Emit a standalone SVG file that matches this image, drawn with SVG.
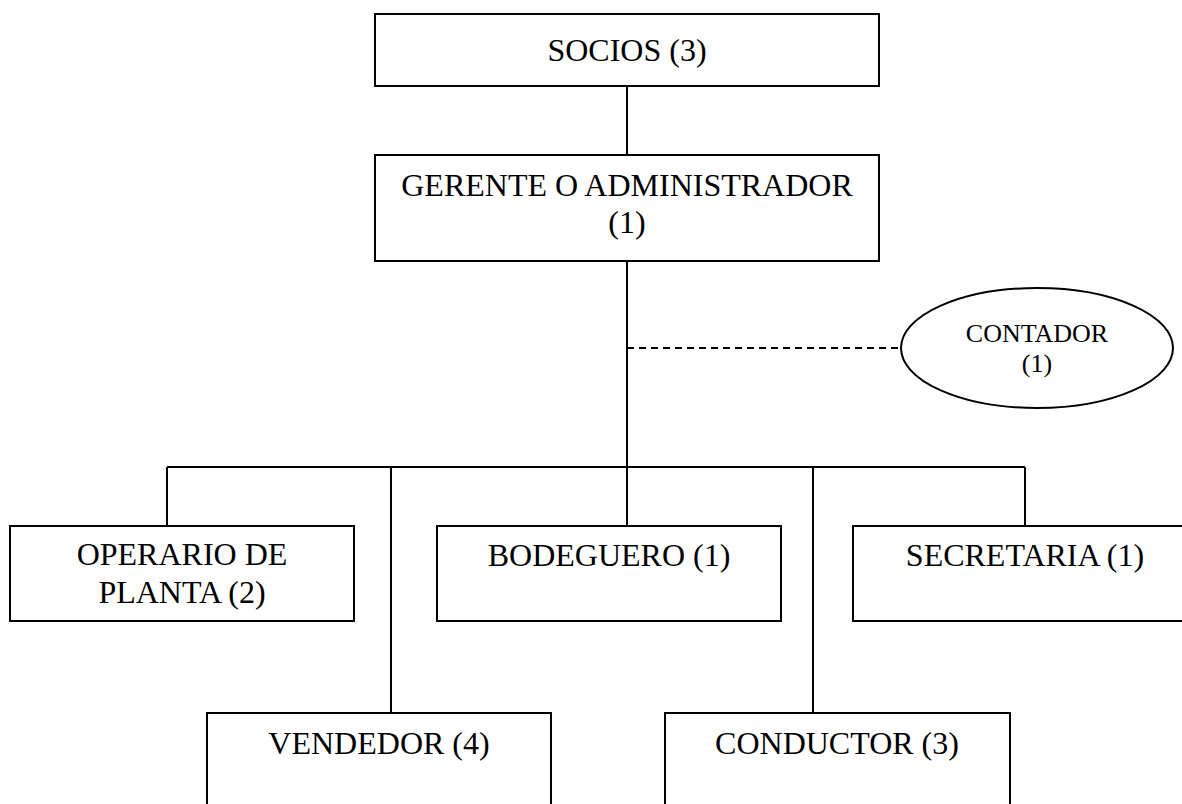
<svg xmlns="http://www.w3.org/2000/svg" width="1182" height="804" viewBox="0 0 1182 804">
  <style>
    .box { fill: #ffffff; stroke: #000000; stroke-width: 2; }
    .oval { fill: #ffffff; stroke: #000000; stroke-width: 2; }
    .lbl { font-family: "Liberation Serif", "Times New Roman", serif; font-size: 32px; fill: #000000; text-anchor: middle; }
    .lbl-sm { font-family: "Liberation Serif", "Times New Roman", serif; font-size: 26px; fill: #000000; text-anchor: middle; }
    .link { fill: none; stroke: #000000; stroke-width: 2; }
    .staff { fill: none; stroke: #000000; stroke-width: 2; stroke-dasharray: 7 5; }
  </style>
  <rect width="1182" height="804" fill="#ffffff"/>

  <!-- reporting lines -->
  <g id="connectors">
    <line class="link" x1="627" y1="86" x2="627" y2="155"/>
    <line class="link" x1="627" y1="261" x2="627" y2="526"/>
    <line class="link" x1="167" y1="467" x2="1025" y2="467"/>
    <line class="link" x1="167" y1="467" x2="167" y2="526"/>
    <line class="link" x1="391" y1="467" x2="391" y2="713"/>
    <line class="link" x1="813" y1="467" x2="813" y2="713"/>
    <line class="link" x1="1025" y1="467" x2="1025" y2="526"/>
    <line class="staff" x1="627" y1="348" x2="901" y2="348"/>
  </g>

  <g id="socios">
    <rect class="box" x="375" y="14" width="504" height="72"/>
    <text class="lbl" x="627" y="61">SOCIOS (3)</text>
  </g>

  <g id="gerente">
    <rect class="box" x="375" y="155" width="504" height="106"/>
    <text class="lbl" x="627" y="196">GERENTE O ADMINISTRADOR</text>
    <text class="lbl" x="627" y="233">(1)</text>
  </g>

  <g id="contador">
    <ellipse class="oval" cx="1037" cy="348" rx="136" ry="60"/>
    <text class="lbl-sm" x="1037" y="342">CONTADOR</text>
    <text class="lbl-sm" x="1037" y="372">(1)</text>
  </g>

  <g id="operario">
    <rect class="box" x="10" y="526" width="344" height="95"/>
    <text class="lbl" x="182" y="565">OPERARIO DE</text>
    <text class="lbl" x="182" y="603">PLANTA (2)</text>
  </g>

  <g id="bodeguero">
    <rect class="box" x="437" y="526" width="344" height="95"/>
    <text class="lbl" x="609" y="566">BODEGUERO (1)</text>
  </g>

  <g id="secretaria">
    <rect class="box" x="853" y="526" width="344" height="95"/>
    <text class="lbl" x="1025" y="566">SECRETARIA (1)</text>
  </g>

  <g id="vendedor">
    <rect class="box" x="207" y="713" width="344" height="120"/>
    <text class="lbl" x="379" y="754">VENDEDOR (4)</text>
  </g>

  <g id="conductor">
    <rect class="box" x="665" y="713" width="345" height="120"/>
    <text class="lbl" x="837" y="754">CONDUCTOR (3)</text>
  </g>
</svg>
